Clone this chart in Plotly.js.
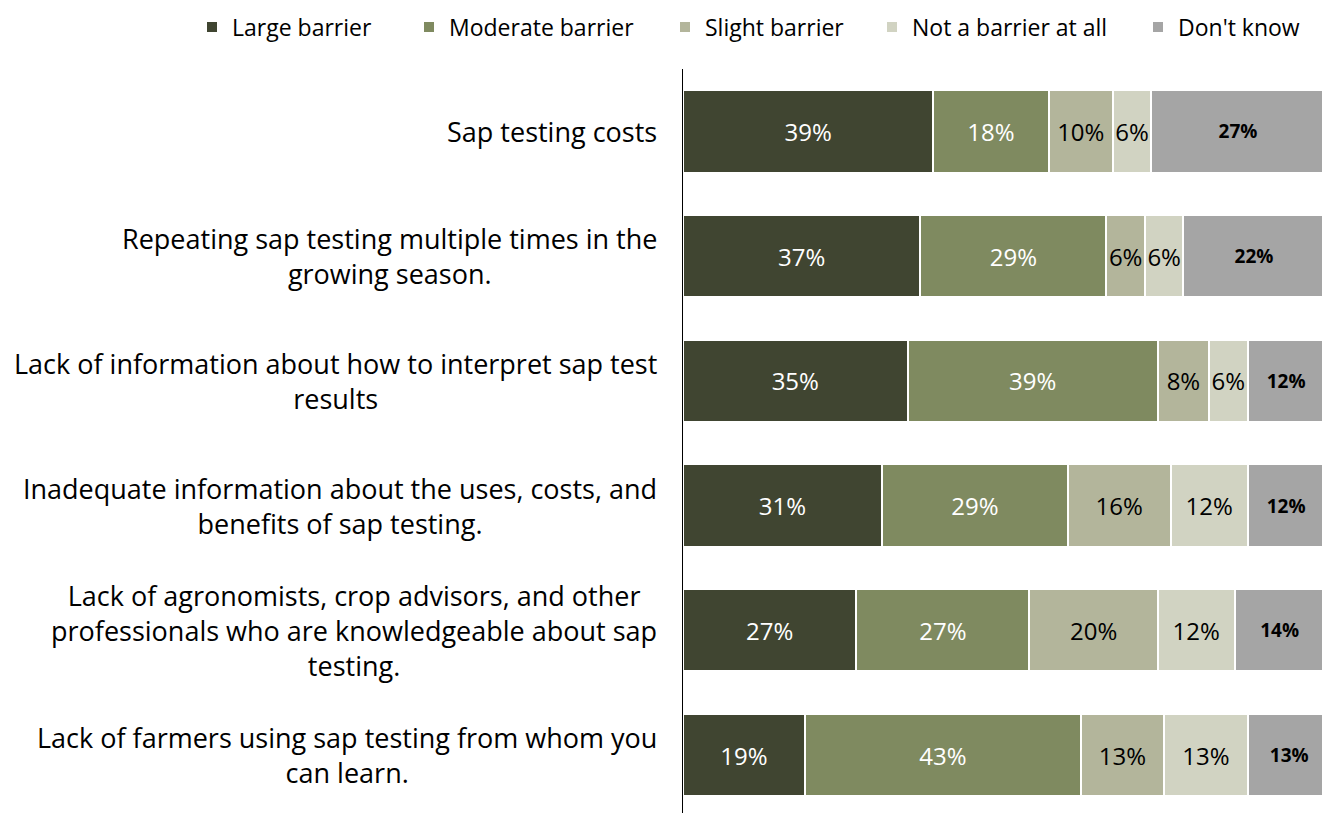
<!DOCTYPE html>
<html>
<head>
<meta charset="utf-8">
<script src="https://cdn.plot.ly/plotly-3.0.1.min.js"></script>
<style>html,body{margin:0;padding:0;background:#fff;}#chart{width:1322px;height:813px;}</style>
</head>
<body>
<div id="chart"></div>
<script>
const categories = [
  "Sap testing costs",
  "Repeating sap testing multiple times in the<br>growing season.",
  "Lack of information about how to interpret sap test<br>results",
  "Inadequate information about the uses, costs, and<br>benefits of sap testing.",
  "Lack of agronomists, crop advisors, and other<br>professionals who are knowledgeable about sap<br>testing.",
  "Lack of farmers using sap testing from whom you<br>can learn."
];
const seriesNames = ["Large barrier", "Moderate barrier", "Slight barrier", "Not a barrier at all", "Don't know"];
const largeBarrier    = [39, 37, 35, 31, 27, 19];
const moderateBarrier = [18, 29, 39, 29, 27, 43];
const slightBarrier   = [10, 6, 8, 16, 20, 13];
const notABarrier     = [6, 6, 6, 12, 12, 13];
const dontKnow        = [27, 22, 12, 12, 14, 13];

const seriesValues = [largeBarrier, moderateBarrier, slightBarrier, notABarrier, dontKnow];
const colors = ["#404531", "#7f8a60", "#b3b59b", "#d1d3c2", "#a5a5a5"];
const textColors = ["#ffffff", "#ffffff", "#000000", "#000000", "#000000"];
// legend text start positions (px) in the page
const legendTextX = [232, 449, 705, 912, 1178];
const legendIds = ['legend', 'legend2', 'legend3', 'legend4', 'legend5'];

const traces = seriesValues.map((vals, i) => ({
  type: 'bar',
  orientation: 'h',
  name: seriesNames[i],
  legend: legendIds[i],
  y: categories,
  x: vals,
  marker: {color: colors[i], line: {color: '#ffffff', width: 2}},
  text: vals.map(v => v + '%'),
  textposition: 'inside',
  insidetextanchor: 'middle',
  textangle: 0,
  constraintext: 'none',
  textfont: i === 4
    ? {family: '"Open Sans", sans-serif', size: 19, color: textColors[i], weight: 700}
    : {family: '"Open Sans", sans-serif', size: 24, color: textColors[i]},
  hoverinfo: 'name+x'
}));

const annotations = categories.map(c => ({
  xref: 'paper', yref: 'y', x: 0, y: c,
  xanchor: 'right', yanchor: 'middle', xshift: -24,
  text: c, align: 'center', showarrow: false,
  font: {family: '"Open Sans", sans-serif', size: 27, color: '#000000'}
}));

const layout = {
  width: 1322, height: 813,
  margin: {l: 683, r: 0, t: 69, b: 0, pad: 0},
  barmode: 'stack',
  bargap: 0.34,
  paper_bgcolor: '#ffffff',
  plot_bgcolor: '#ffffff',
  showlegend: true,
  xaxis: {range: [0, 99.6], visible: false, fixedrange: true},
  yaxis: {range: [5.465, -0.5], showticklabels: false, showline: true, linecolor: '#000000', linewidth: 1, ticks: '', showgrid: false, zeroline: false},
  annotations: annotations
};
legendIds.forEach((id, i) => {
  layout[id] = {
    orientation: 'h', xref: 'container', yref: 'container',
    x: (legendTextX[i] - 40) / 1322, xanchor: 'left',
    y: 1 - 27 / 813, yanchor: 'middle',
    font: {family: '"Open Sans", sans-serif', size: 23, color: '#000000'},
    itemwidth: 30, bgcolor: 'rgba(0,0,0,0)'
  };
});

Plotly.newPlot('chart', traces, layout, {displayModeBar: false, responsive: false});
</script>
</body>
</html>
